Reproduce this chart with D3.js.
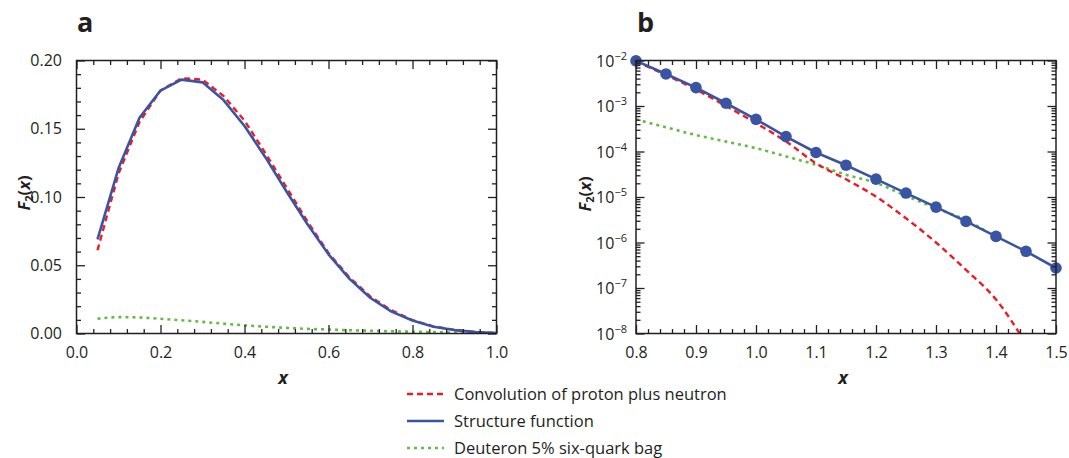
<!DOCTYPE html>
<html>
<head>
<meta charset="utf-8">
<script src="https://cdn.jsdelivr.net/npm/d3@7"></script>
<style>
  html, body { margin: 0; padding: 0; background: #fff; }
  svg { display: block; }
  text { font-family: "Open Sans", "Noto Sans", sans-serif; fill: #231f20; }
</style>
</head>
<body>
<svg id="chart" width="1069" height="458"></svg>
<script>
// ---------- Panel a: F2(x) on a linear scale ----------
const xA = [0.05, 0.10, 0.15, 0.20, 0.25, 0.30, 0.35, 0.40, 0.45, 0.50,
            0.55, 0.60, 0.65, 0.70, 0.75, 0.80, 0.85, 0.90, 0.95, 1.00];
const convA = [0.061, 0.117, 0.155, 0.178, 0.187, 0.186, 0.174, 0.156, 0.132, 0.107,
               0.082, 0.059, 0.041, 0.027, 0.017, 0.0098, 0.0052, 0.0026, 0.0011, 0.0003];
const structA = [0.069, 0.121, 0.158, 0.178, 0.186, 0.184, 0.171, 0.152, 0.129, 0.104,
                 0.080, 0.058, 0.040, 0.026, 0.016, 0.0095, 0.005, 0.0025, 0.001, 0.0003];
const sixqA = [0.0108, 0.0120, 0.0117, 0.0108, 0.0097, 0.0085, 0.0072, 0.0060, 0.0050, 0.0041,
               0.0034, 0.0029, 0.0024, 0.0020, 0.0016, 0.0013, 0.0010, 0.0007, 0.0005, 0.0003];
const ticksAx = [0.0, 0.2, 0.4, 0.6, 0.8, 1.0];
const ticksAy = [0.00, 0.05, 0.10, 0.15, 0.20];

// ---------- Panel b: large-x tail on a log scale ----------
const xB = [0.80, 0.85, 0.90, 0.95, 1.00, 1.05, 1.10, 1.15, 1.20, 1.25, 1.30, 1.35, 1.40, 1.45, 1.50];
const structB = [9.8e-3, 5.06e-3, 2.53e-3, 1.15e-3, 5.1e-4, 2.13e-4, 9.5e-5, 5.0e-5,
                 2.47e-5, 1.22e-5, 6.0e-6, 2.91e-6, 1.36e-6, 6.4e-7, 2.75e-7];
const xConvB = [0.80, 0.85, 0.90, 0.95, 1.00, 1.05, 1.10, 1.15, 1.20, 1.25, 1.30, 1.35, 1.40, 1.45];
const convB = [9.5e-3, 4.8e-3, 2.3e-3, 1.0e-3, 4.2e-4, 1.66e-4, 5.5e-5, 2.45e-5,
               1.02e-5, 3.4e-6, 1.0e-6, 2.5e-7, 5.6e-8, 6e-9];
const xSixqB = [0.80, 0.85, 0.90, 0.95, 1.00, 1.05, 1.10, 1.15, 1.20, 1.25, 1.30, 1.35, 1.38];
const sixqB = [5.1e-4, 3.4e-4, 2.3e-4, 1.65e-4, 1.18e-4, 7.8e-5, 5.1e-5, 3.1e-5,
               2.04e-5, 1.06e-5, 5.7e-6, 3.1e-6, 1.9e-6];
const ticksBx = [0.8, 0.9, 1.0, 1.1, 1.2, 1.3, 1.4, 1.5];
const ticksBy = [1e-8, 1e-7, 1e-6, 1e-5, 1e-4, 1e-3, 1e-2];

const seriesNames = ["Convolution of proton plus neutron", "Structure function", "Deuteron 5% six-quark bag"];

const INK = "#231f20";
const RED = "#ed1c24";
const BLUE = "#3a54a4";
const GREEN = "#66bb46";

const svg = d3.select("#chart");

const plotTop = 60.5, plotBottom = 333.5;
const sxA = d3.scaleLinear().domain([0, 1]).range([76.5, 496.5]);
const syA = d3.scaleLinear().domain([0, 0.2]).range([plotBottom, plotTop]);
const sxB = d3.scaleLinear().domain([0.8, 1.5]).range([636, 1056]);
const syB = d3.scaleLog().domain([1e-8, 1e-2]).range([plotBottom, plotTop]);

const MAJ = 8.5, MIN = 4.5;

function styleAxis(g) {
  g.select(".domain").remove();
  g.selectAll("line").attr("stroke", INK).attr("stroke-width", 1.3);
}

function frame(sx, sy) {
  const [x0, x1] = sx.range();
  const [y0, y1] = sy.range();
  svg.append("rect")
    .attr("x", x0).attr("y", y1).attr("width", x1 - x0).attr("height", y0 - y1)
    .attr("fill", "none").attr("stroke", INK).attr("stroke-width", 1.5);
}

function ticksX(sx, sy, major, minor, fmt) {
  const [y0, y1] = sy.range();
  // bottom, labelled
  svg.append("g").attr("transform", `translate(0,${y0})`)
    .call(d3.axisBottom(sx).tickValues(major).tickSize(-MAJ).tickPadding(MAJ + 5).tickFormat(fmt))
    .call(styleAxis)
    .call(g => g.selectAll("text").attr("font-size", 16).attr("fill", INK).attr("dy", "0.71em"));
  svg.append("g").attr("transform", `translate(0,${y0})`)
    .call(d3.axisBottom(sx).tickValues(minor).tickSize(-MIN).tickFormat(""))
    .call(styleAxis);
  // top mirror
  svg.append("g").attr("transform", `translate(0,${y1})`)
    .call(d3.axisTop(sx).tickValues(major).tickSize(-MAJ).tickFormat(""))
    .call(styleAxis);
  svg.append("g").attr("transform", `translate(0,${y1})`)
    .call(d3.axisTop(sx).tickValues(minor).tickSize(-MIN).tickFormat(""))
    .call(styleAxis);
}

function ticksY(sx, sy, major, minor, fmt) {
  const [x0, x1] = sx.range();
  svg.append("g").attr("transform", `translate(${x0},0)`)
    .call(d3.axisLeft(sy).tickValues(major).tickSize(-MAJ).tickPadding(MAJ + 6).tickFormat(fmt || ""))
    .call(styleAxis)
    .call(g => g.selectAll("text").attr("font-size", 16).attr("fill", INK));
  svg.append("g").attr("transform", `translate(${x0},0)`)
    .call(d3.axisLeft(sy).tickValues(minor).tickSize(-MIN).tickFormat(""))
    .call(styleAxis);
  svg.append("g").attr("transform", `translate(${x1},0)`)
    .call(d3.axisRight(sy).tickValues(major).tickSize(-MAJ).tickFormat(""))
    .call(styleAxis);
  svg.append("g").attr("transform", `translate(${x1},0)`)
    .call(d3.axisRight(sy).tickValues(minor).tickSize(-MIN).tickFormat(""))
    .call(styleAxis);
}

function minorBetween(major, n) {
  const out = [];
  for (let i = 0; i < major.length - 1; i++) {
    const step = (major[i + 1] - major[i]) / (n + 1);
    for (let k = 1; k <= n; k++) out.push(major[i] + k * step);
  }
  return out;
}

function yTitle(cx, cy) {
  const t = svg.append("text")
    .attr("transform", `translate(${cx},${cy}) rotate(-90)`)
    .attr("text-anchor", "middle").attr("font-size", 16.5).attr("font-weight", "bold");
  t.append("tspan").attr("font-style", "italic").text("F");
  t.append("tspan").attr("font-size", 11).attr("dy", 2.5).text("2");
  t.append("tspan").attr("dy", -2.5).text("(");
  t.append("tspan").attr("font-style", "italic").text("x");
  t.append("tspan").text(")");
}

function xTitle(cx, y) {
  svg.append("text").attr("x", cx).attr("y", y)
    .attr("text-anchor", "middle").attr("font-size", 18)
    .attr("font-weight", "bold").attr("font-style", "italic").text("x");
}

function panelLabel(x, y, s) {
  svg.append("text").attr("x", x).attr("y", y)
    .attr("font-size", 27).attr("font-weight", "bold").text(s);
}

// clip regions so curves stay inside each frame
function clip(id, sx, sy) {
  const [x0, x1] = sx.range();
  const [y0, y1] = sy.range();
  svg.append("clipPath").attr("id", id).append("rect")
    .attr("x", x0).attr("y", y1).attr("width", x1 - x0).attr("height", y0 - y1);
}
clip("clipA", sxA, syA);
clip("clipB", sxB, syB);

function drawLine(xs, ys, sx, sy, color, dash, width, clipId, curve) {
  const pts = xs.map((x, i) => [x, ys[i]]);
  svg.append("path")
    .datum(pts)
    .attr("clip-path", `url(#${clipId})`)
    .attr("fill", "none")
    .attr("stroke", color)
    .attr("stroke-width", width)
    .attr("stroke-dasharray", dash)
    .attr("stroke-linejoin", "round")
    .attr("d", d3.line().curve(curve || d3.curveLinear).x(d => sx(d[0])).y(d => sy(d[1])));
}

// ---- Panel a ----
drawLine(xA, sixqA, sxA, syA, GREEN, "3,4", 2.6, "clipA", d3.curveMonotoneX);
drawLine(xA, convA, sxA, syA, RED, "6,4", 2.4, "clipA");
drawLine(xA, structA, sxA, syA, BLUE, null, 2.6, "clipA");
frame(sxA, syA);
ticksX(sxA, syA, ticksAx, minorBetween(ticksAx, 4), d3.format(".1f"));
ticksY(sxA, syA, ticksAy, minorBetween(ticksAy, 4), d3.format(".2f"));
yTitle(30, 193);
xTitle(283, 384);
panelLabel(77, 32, "a");

// ---- Panel b ----
drawLine(xSixqB, sixqB, sxB, syB, GREEN, "3,4", 2.6, "clipB", d3.curveMonotoneX);
drawLine(xConvB, convB, sxB, syB, RED, "6,4", 2.4, "clipB", d3.curveMonotoneX);
drawLine(xB, structB, sxB, syB, BLUE, null, 2.6, "clipB");
svg.append("g").selectAll("circle")
  .data(xB.map((x, i) => [x, structB[i]]))
  .join("circle")
  .attr("cx", d => sxB(d[0])).attr("cy", d => syB(d[1]))
  .attr("r", 5.8).attr("fill", BLUE);
frame(sxB, syB);
const logMinor = [];
ticksBy.slice(0, -1).forEach(d => { for (let k = 2; k <= 9; k++) logMinor.push(d * k); });
ticksX(sxB, syB, ticksBx, minorBetween(ticksBx, 4), d3.format(".1f"));
ticksY(sxB, syB, ticksBy, logMinor, null);
// power-of-ten labels
const powLab = svg.append("g");
ticksBy.forEach(v => {
  const e = Math.round(Math.log10(v));
  const t = powLab.append("text")
    .attr("x", 627).attr("y", syB(v) + 6)
    .attr("text-anchor", "end").attr("font-size", 16);
  t.append("tspan").text("10");
  t.append("tspan").attr("font-size", 11).attr("dy", -7).text("\u2212" + Math.abs(e));
});
yTitle(591, 194);
xTitle(843, 384);
panelLabel(637, 32, "b");

// ---- Legend ----
const legend = svg.append("g");
const legendStyle = [
  { color: RED, dash: "6,4" },
  { color: BLUE, dash: null },
  { color: GREEN, dash: "3,4" }
];
const legendY = [394, 421, 448];
seriesNames.forEach((name, i) => {
  legend.append("line")
    .attr("x1", 407).attr("x2", 444).attr("y1", legendY[i]).attr("y2", legendY[i])
    .attr("stroke", legendStyle[i].color).attr("stroke-width", 2.4)
    .attr("stroke-dasharray", legendStyle[i].dash);
  legend.append("text")
    .attr("x", 454).attr("y", legendY[i] + 5.5)
    .attr("font-size", 16.5).text(name);
});
</script>
</body>
</html>
